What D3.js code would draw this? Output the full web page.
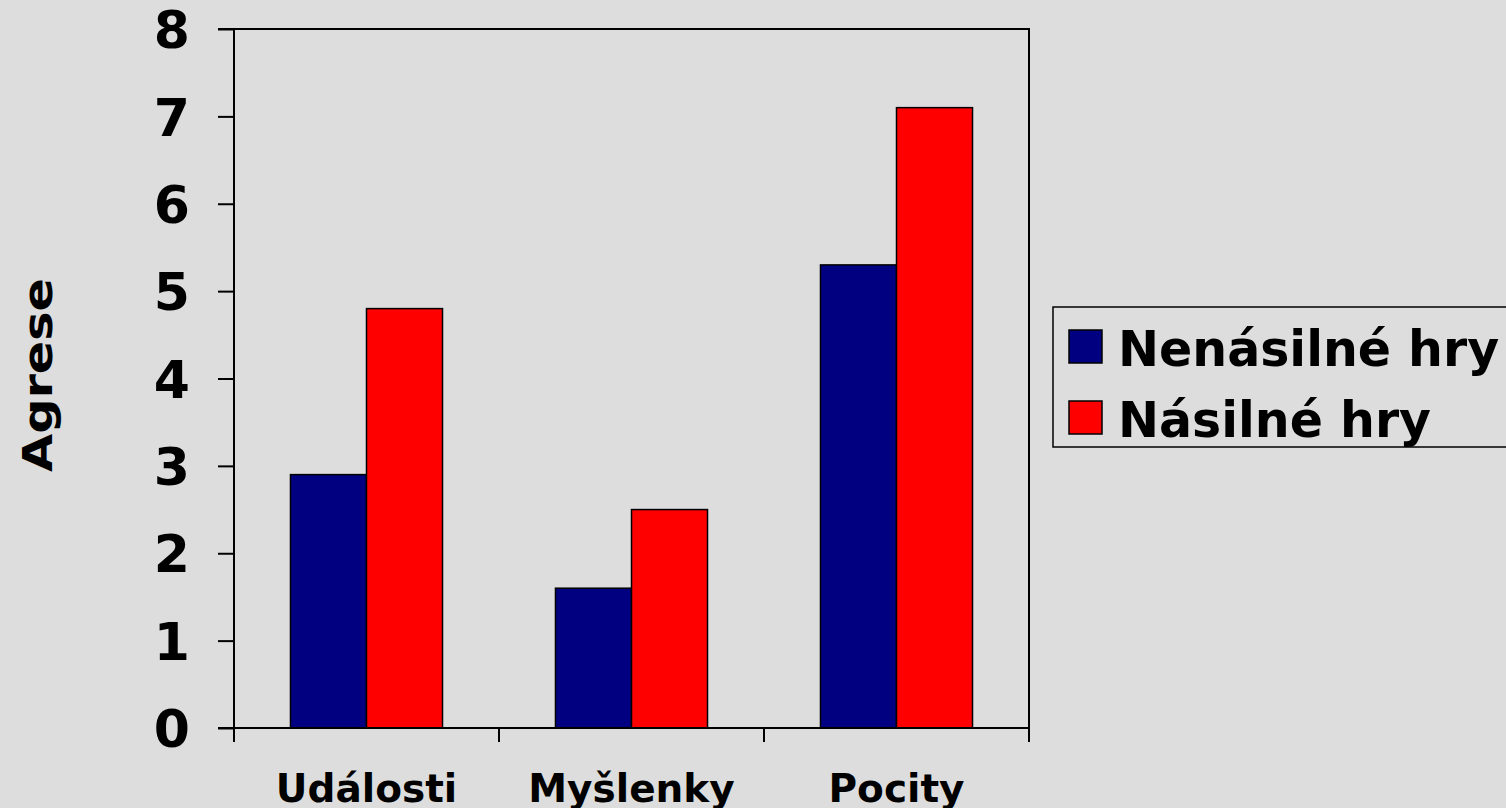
<!DOCTYPE html>
<html><head><meta charset="utf-8">
<script src="https://cdn.jsdelivr.net/npm/d3@7"></script>
<style>html,body{margin:0;padding:0;background:#dddddd;overflow:hidden}svg{display:block}</style>
</head><body>
<script>
const categories = ["Události", "Myšlenky", "Pocity"];
const seriesNames = ["Nenásilné hry", "Násilné hry"];
const seriesColors = ["#000080", "#ff0000"];
const nenasilne = [2.9, 1.6, 5.3];
const nasilne = [4.8, 2.5, 7.1];
const yTicks = [0, 1, 2, 3, 4, 5, 6, 7, 8];
const yLabel = "Agrese";

(function () {
const W = 1506, H = 808;
const font = "'DejaVu Sans', Verdana, sans-serif";
const svg = d3.select("body").append("svg").attr("width", W).attr("height", H);
svg.append("rect").attr("width", W).attr("height", H).attr("fill", "#dddddd");

const pL = 234, pR = 1029, pT = 29, pB = 728;
const x0 = d3.scaleBand().domain(categories).range([pL, pR]).padding(0);
const x1 = d3.scaleBand().domain(seriesNames).range([0, x0.bandwidth()]).paddingInner(0).paddingOuter(0.743);
const y = d3.scaleLinear().domain([0, 8]).range([pB, pT]);

// plot frame (top and right)
svg.append("path").attr("d", `M${pL},${pT}H${pR}V${pB}`).attr("fill", "none").attr("stroke", "#000").attr("stroke-width", 2);

const data = categories.map((c, i) => ({cat: c, vals: [nenasilne[i], nasilne[i]]}));
const g = svg.append("g");
data.forEach(d => {
  d.vals.forEach((v, j) => {
    g.append("rect")
      .attr("x", x0(d.cat) + x1(seriesNames[j]))
      .attr("y", y(v))
      .attr("width", x1.bandwidth())
      .attr("height", y(0) - y(v))
      .attr("fill", seriesColors[j])
      .attr("stroke", "#000").attr("stroke-width", 1.5);
  });
});

// y axis
const yAxis = svg.append("g").attr("transform", `translate(${pL},0)`)
  .call(d3.axisLeft(y).tickValues(yTicks).tickSize(16).tickPadding(28).tickFormat(d3.format("d")));
yAxis.select(".domain").attr("stroke", "#000").attr("stroke-width", 2).attr("d", `M-16,${pT}H0V${pB}`);
yAxis.selectAll(".tick line").attr("stroke", "#000").attr("stroke-width", 2);
yAxis.selectAll(".tick text").attr("font-family", font).attr("font-weight", "bold").attr("font-size", 52).attr("fill", "#000").attr("dy", "0.36em");

// x axis
const xAxis = svg.append("g").attr("transform", `translate(0,${pB})`)
  .call(d3.axisBottom(x0).tickSize(0).tickPadding(0));
xAxis.select(".domain").remove();
xAxis.selectAll(".tick text").attr("font-family", font).attr("font-weight", "bold").attr("font-size", 39).attr("fill", "#000").attr("y", 74).attr("dy", 0);
const bounds = [pL].concat(categories.map(c => x0(c) + x0.bandwidth()));
xAxis.append("path").attr("d", `M${pL - 16},0H${pR}`).attr("stroke", "#000").attr("stroke-width", 2);
xAxis.selectAll(".bt").data(bounds).enter().append("line").attr("class", "bt")
  .attr("x1", d => d).attr("x2", d => d).attr("y1", 0).attr("y2", 14)
  .attr("stroke", "#000").attr("stroke-width", 2);

// y label
svg.append("text").attr("transform", "translate(52,375) rotate(-90)")
  .attr("text-anchor", "middle").attr("font-family", font).attr("font-weight", "bold")
  .attr("font-size", 40).attr("textLength", 194).attr("lengthAdjust", "spacingAndGlyphs").text(yLabel);

// legend
const lg = svg.append("g");
lg.append("rect").attr("x", 1053).attr("y", 307).attr("width", 470).attr("height", 140)
  .attr("fill", "#dddddd").attr("stroke", "#000").attr("stroke-width", 1.5);
seriesNames.forEach((s, i) => {
  const yy = 330 + i * 71;
  lg.append("rect").attr("x", 1069).attr("y", yy).attr("width", 33).attr("height", 33)
    .attr("fill", seriesColors[i]).attr("stroke", "#000").attr("stroke-width", 1.5);
  lg.append("text").attr("x", 1118).attr("y", yy + 36).attr("font-family", font)
    .attr("font-weight", "bold").attr("font-size", 49).attr("fill", "#000").text(s);
});
})();
</script>
</body></html>
